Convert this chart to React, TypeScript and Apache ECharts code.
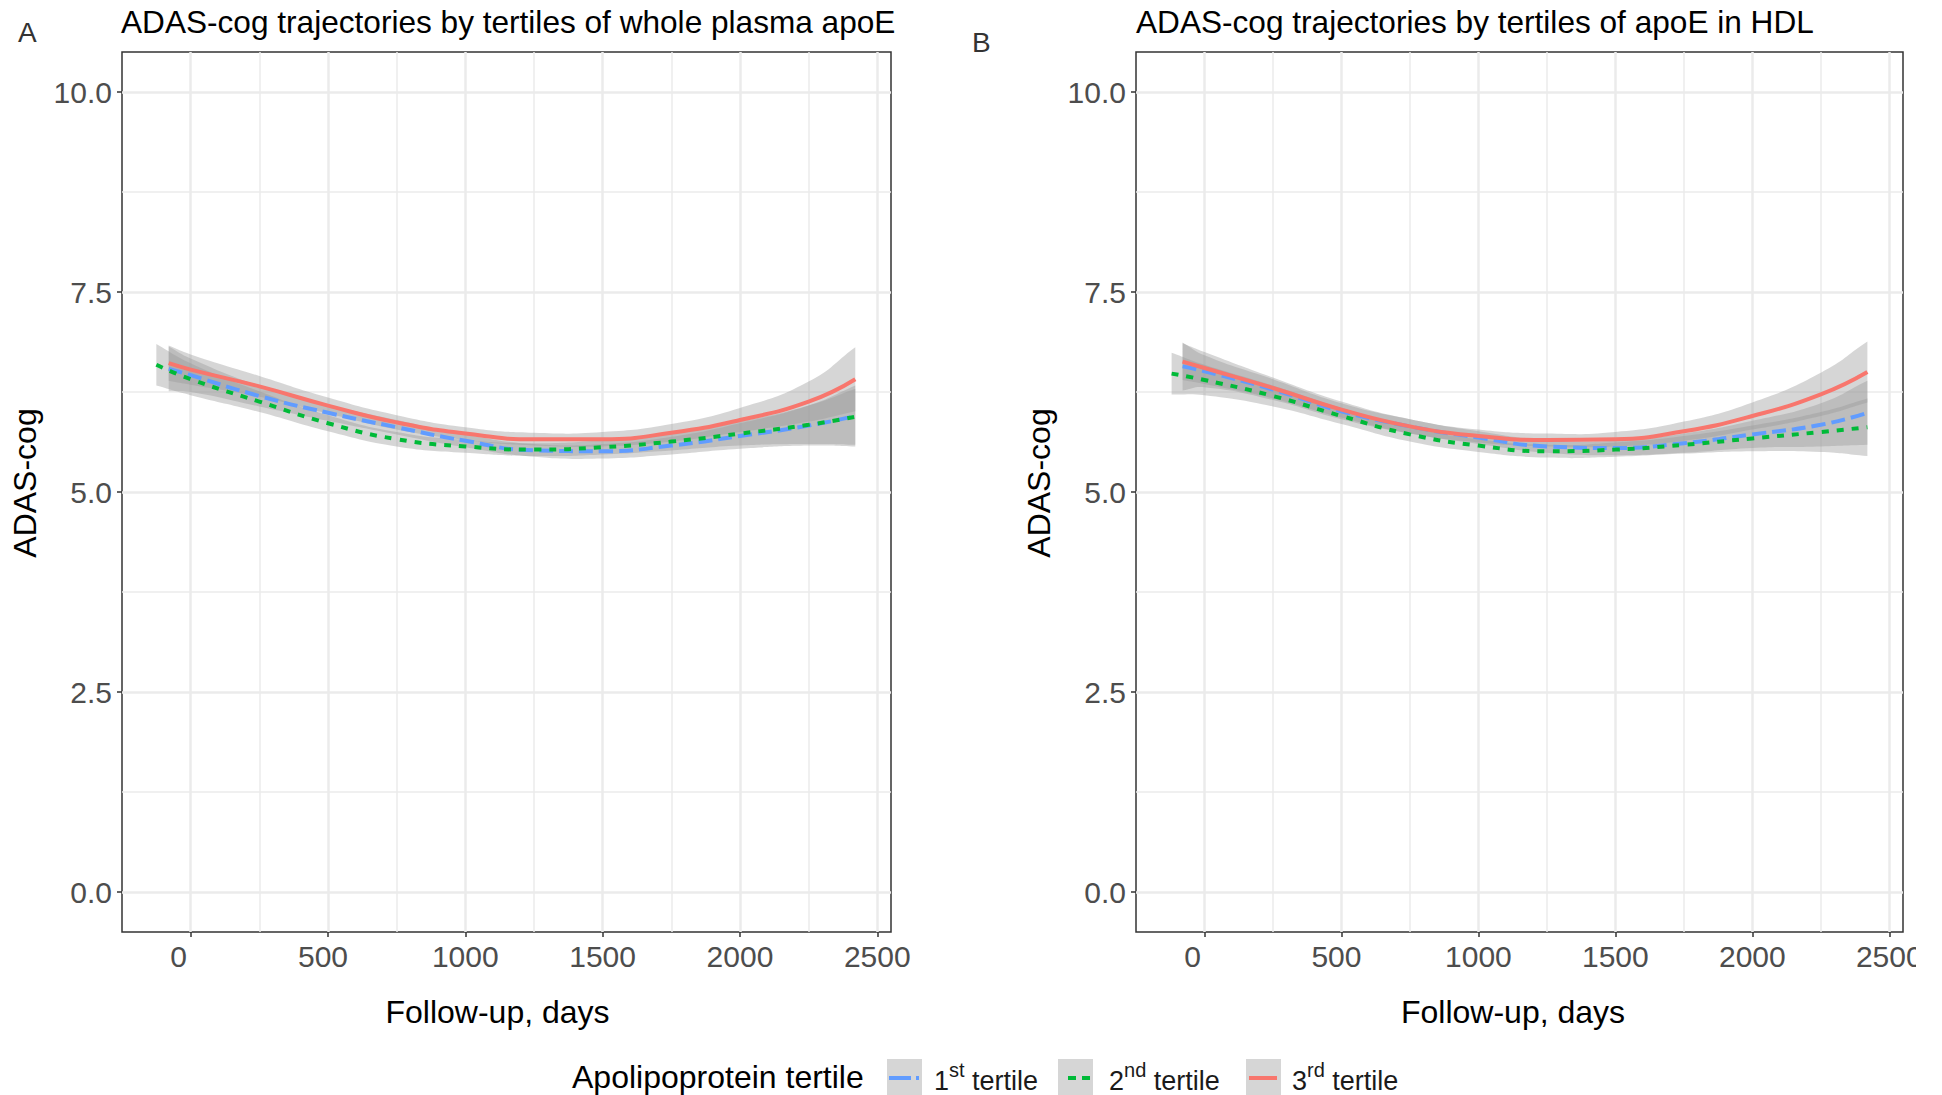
import React, { useEffect, useRef } from 'react';
import * as echarts from 'echarts';

const FONT = '"Liberation Sans", Arial, Helvetica, sans-serif';

const titleA = 'ADAS-cog trajectories by tertiles of whole plasma apoE';
const titleB = 'ADAS-cog trajectories by tertiles of apoE in HDL';
const xName = 'Follow-up, days';
const yName = 'ADAS-cog';
const legendTitle = 'Apolipoprotein tertile';
const xTicks = [0, 500, 1000, 1500, 2000, 2500];
const xMinor = [250, 750, 1250, 1750, 2250];
const yTicks = [0, 2.5, 5, 7.5, 10];
const yMinor = [1.25, 3.75, 6.25, 8.75];

// ---- Panel A: whole plasma apoE ----
const daysA1 = [-80, 0, 250, 500, 750, 1000, 1250, 1500, 1750, 2000, 2250, 2420];
const fitA1 = [6.54, 6.46, 6.2, 5.99, 5.81, 5.64, 5.52, 5.51, 5.58, 5.7, 5.83, 5.95];
const loA1 = [6.26, 6.25, 6.07, 5.89, 5.72, 5.56, 5.44, 5.42, 5.47, 5.54, 5.58, 5.57];
const hiA1 = [6.82, 6.67, 6.33, 6.09, 5.9, 5.72, 5.6, 5.6, 5.69, 5.86, 6.08, 6.33];

const daysA2 = [-125, 0, 250, 500, 750, 1000, 1250, 1500, 1750, 2000, 2250, 2420];
const fitA2 = [6.59, 6.41, 6.13, 5.86, 5.66, 5.57, 5.53, 5.56, 5.63, 5.73, 5.84, 5.94];
const loA2 = [6.33, 6.21, 6.0, 5.76, 5.57, 5.49, 5.45, 5.47, 5.52, 5.58, 5.6, 5.59];
const hiA2 = [6.85, 6.61, 6.26, 5.96, 5.75, 5.65, 5.61, 5.65, 5.74, 5.88, 6.08, 6.29];

const daysA3 = [-80, 0, 250, 500, 750, 1000, 1250, 1500, 1750, 2000, 2250, 2420];
const fitA3 = [6.61, 6.53, 6.32, 6.08, 5.87, 5.73, 5.66, 5.66, 5.74, 5.9, 6.13, 6.41];
const loA3 = [6.39, 6.34, 6.19, 5.98, 5.78, 5.65, 5.58, 5.57, 5.63, 5.75, 5.88, 6.01];
const hiA3 = [6.83, 6.72, 6.45, 6.18, 5.96, 5.81, 5.74, 5.75, 5.85, 6.05, 6.38, 6.81];

// ---- Panel B: apoE in HDL ----
const daysB1 = [-80, 0, 250, 500, 750, 1000, 1250, 1500, 1750, 2000, 2250, 2420];
const fitB1 = [6.57, 6.51, 6.28, 6.01, 5.82, 5.68, 5.57, 5.55, 5.61, 5.72, 5.84, 5.99];
const loB1 = [6.27, 6.31, 6.15, 5.91, 5.73, 5.6, 5.49, 5.46, 5.49, 5.55, 5.57, 5.59];
const hiB1 = [6.87, 6.71, 6.41, 6.11, 5.91, 5.76, 5.65, 5.64, 5.73, 5.89, 6.11, 6.39];

const daysB2 = [-120, 0, 250, 500, 750, 1000, 1250, 1500, 1750, 2000, 2250, 2420];
const fitB2 = [6.48, 6.4, 6.2, 5.95, 5.72, 5.58, 5.51, 5.53, 5.59, 5.67, 5.75, 5.81];
const loB2 = [6.22, 6.21, 6.07, 5.85, 5.63, 5.5, 5.43, 5.44, 5.48, 5.51, 5.5, 5.45];
const hiB2 = [6.74, 6.59, 6.33, 6.05, 5.81, 5.66, 5.59, 5.62, 5.7, 5.83, 6.0, 6.17];

const daysB3 = [-80, 0, 250, 500, 750, 1000, 1250, 1500, 1750, 2000, 2250, 2420];
const fitB3 = [6.63, 6.55, 6.3, 6.03, 5.82, 5.7, 5.65, 5.66, 5.76, 5.95, 6.22, 6.5];
const loB3 = [6.4, 6.35, 6.17, 5.93, 5.73, 5.62, 5.57, 5.57, 5.64, 5.78, 5.95, 6.12];
const hiB3 = [6.86, 6.75, 6.43, 6.13, 5.91, 5.78, 5.73, 5.75, 5.88, 6.12, 6.49, 6.88];

const tertileNames = ['1st tertile', '2nd tertile', '3rd tertile'];
const tertileColors = ['#619CFF', '#00BA38', '#F8766D'];
const tertileDash: any[] = [[14, 6], [7, 8], 'solid'];

const SMOOTH = 0.5;
const RIBBON_FILL = 'rgba(153,153,153,0.4)';

// Same bezier smoothing rule as ECharts' smoothed line, used for the ribbon edges.
function drawSmooth(ctx: any, pts: number[][], s: number) {
  const n = pts.length;
  let cp0x = pts[0][0] + (pts[1][0] - pts[0][0]) * s;
  let cp0y = pts[0][1] + (pts[1][1] - pts[0][1]) * s;
  for (let i = 1; i < n; i++) {
    const x = pts[i][0], y = pts[i][1];
    const px = pts[i - 1][0], py = pts[i - 1][1];
    const nx = i < n - 1 ? pts[i + 1][0] : x;
    const ny = i < n - 1 ? pts[i + 1][1] : y;
    const vx = nx - px, vy = ny - py;
    const l0 = Math.hypot(x - px, y - py), l1 = Math.hypot(nx - x, ny - y);
    const r = l0 + l1 > 0 ? l1 / (l0 + l1) : 0.5;
    const cp1x = x - vx * s * (1 - r), cp1y = y - vy * s * (1 - r);
    ctx.bezierCurveTo(cp0x, cp0y, cp1x, cp1y, x, y);
    cp0x = x + vx * s * r;
    cp0y = y + vy * s * r;
  }
}

const Ribbon = (echarts as any).graphic.extendShape({
  shape: { upper: [], lower: [], smooth: 0.5 },
  buildPath(ctx: any, shape: any) {
    const up = shape.upper, lo = shape.lower;
    if (!up || up.length < 2 || !lo || lo.length < 2) return;
    ctx.moveTo(up[0][0], up[0][1]);
    drawSmooth(ctx, up, shape.smooth);
    const rev = lo.slice().reverse();
    ctx.lineTo(rev[0][0], rev[0][1]);
    drawSmooth(ctx, rev, shape.smooth);
    ctx.closePath();
  },
});
(echarts as any).graphic.registerShape('ribbon', Ribbon);

function tertileSeries(panel: string, axisIdx: number, t: number, days: number[], fit: number[], lo: number[], hi: number[]) {
  return [
    {
      type: 'custom',
      name: tertileNames[t] + ' 95% CI ' + panel,
      xAxisIndex: axisIdx,
      yAxisIndex: axisIdx,
      silent: true,
      clip: true,
      data: days.map((d, i) => [d, lo[i], hi[i]]),
      encode: { x: 0, y: [1, 2] },
      renderItem: (params: any, api: any) => {
        if (params.dataIndex !== 0) return null;
        const upper = days.map((d, i) => api.coord([d, hi[i]]));
        const lower = days.map((d, i) => api.coord([d, lo[i]]));
        return { type: 'ribbon', shape: { upper, lower, smooth: SMOOTH }, style: { fill: RIBBON_FILL } };
      },
    },
    {
      type: 'line',
      name: tertileNames[t],
      xAxisIndex: axisIdx,
      yAxisIndex: axisIdx,
      smooth: SMOOTH,
      symbol: 'none',
      silent: true,
      data: days.map((d, i) => [d, fit[i]]),
      lineStyle: { color: tertileColors[t], width: 4, type: tertileDash[t] },
      itemStyle: { color: tertileColors[t] },
    },
  ];
}

function mainX(gridIndex: number, padRight: number) {
  return {
    type: 'value', gridIndex, min: -250, max: 2550, position: 'bottom',
    name: xName, nameLocation: 'middle', nameGap: 64,
    nameTextStyle: { fontSize: 32, color: '#000', fontFamily: FONT, padding: [0, padRight, 0, 0] },
    axisLine: { show: false, onZero: false },
    axisTick: { show: true, length: 5, lineStyle: { color: '#333333', width: 1.5 }, customValues: xTicks },
    axisLabel: {
      show: true, customValues: xTicks, fontSize: 30, color: '#4D4D4D', margin: 9, fontFamily: FONT,
      formatter: (v: number) => (v === 0 ? '{z|0}' : v === 500 ? '{f|500}' : String(v)),
      rich: {
        z: { fontSize: 30, color: '#4D4D4D', fontFamily: FONT, padding: [0, 24, 0, 0] },
        f: { fontSize: 30, color: '#4D4D4D', fontFamily: FONT, padding: [0, 10, 0, 0] },
      },
    },
    splitLine: { show: true, lineStyle: { color: '#EBEBEB', width: 2.5 } },
  };
}
function minorX(gridIndex: number) {
  return {
    type: 'value', gridIndex, min: -250, max: 2550, position: 'top',
    axisLine: { show: false, onZero: false },
    axisTick: { show: false, customValues: xMinor },
    axisLabel: { show: false, customValues: xMinor },
    splitLine: { show: true, lineStyle: { color: '#EBEBEB', width: 1.5 } },
  };
}
function mainY(gridIndex: number) {
  return {
    type: 'value', gridIndex, min: -0.5, max: 10.5, position: 'left',
    name: yName, nameLocation: 'middle', nameGap: 81, nameRotate: 90,
    nameTextStyle: { fontSize: 32, color: '#000', fontFamily: FONT, padding: [0, 0, 0, 18] },
    axisLine: { show: false, onZero: false },
    axisTick: { show: true, length: 5, lineStyle: { color: '#333333', width: 1.5 }, customValues: yTicks },
    axisLabel: {
      show: true, customValues: yTicks, fontSize: 30, color: '#4D4D4D', margin: 10, fontFamily: FONT,
      formatter: (v: number) => v.toFixed(1),
    },
    splitLine: { show: true, lineStyle: { color: '#EBEBEB', width: 2.5 } },
  };
}
function minorY(gridIndex: number) {
  return {
    type: 'value', gridIndex, min: -0.5, max: 10.5, position: 'right',
    axisLine: { show: false, onZero: false },
    axisTick: { show: false, customValues: yMinor },
    axisLabel: { show: false, customValues: yMinor },
    splitLine: { show: true, lineStyle: { color: '#EBEBEB', width: 1.5 } },
  };
}

function legendGraphics() {
  const y = 1077;
  const boxes = [887, 1058, 1246];
  const texts = [934, 1109, 1292];
  const sups = ['st', 'nd', 'rd'];
  const els: any[] = [
    {
      type: 'text', x: 572, y, silent: true,
      style: { text: legendTitle, fontSize: 32, fontFamily: FONT, fill: '#000', verticalAlign: 'middle', align: 'left' },
    },
  ];
  const keyLines = [
    { x1: 889, x2: 919, dash: [22, 5] },
    { x1: 1068, x2: 1092, dash: [8, 6] },
    { x1: 1249, x2: 1277, dash: null },
  ];
  for (let i = 0; i < 3; i++) {
    els.push({ type: 'rect', silent: true, shape: { x: boxes[i], y: y - 18, width: 35, height: 36 }, style: { fill: '#D6D6D6' } });
    els.push({
      type: 'line', silent: true,
      shape: { x1: keyLines[i].x1, y1: y + 1, x2: keyLines[i].x2, y2: y + 1 },
      style: { stroke: tertileColors[i], lineWidth: 4, lineDash: keyLines[i].dash || undefined },
    });
    els.push({
      type: 'text', x: texts[i], y, silent: true,
      style: {
        text: `{n|${i + 1}}{s|${sups[i]}}{n| tertile}`,
        verticalAlign: 'middle', align: 'left',
        rich: {
          n: { fontSize: 27, fontFamily: FONT, fill: '#1a1a1a', lineHeight: 34, verticalAlign: 'bottom' },
          s: { fontSize: 20, fontFamily: FONT, fill: '#1a1a1a', lineHeight: 20, verticalAlign: 'top' },
        },
      },
    });
  }
  return els;
}

export default function App() {
  const ref = useRef<HTMLDivElement>(null);
  useEffect(() => {
    document.body.style.margin = '0';
    if (!ref.current) return;
    const chart = echarts.init(ref.current, undefined, { renderer: 'svg' });
    const series: any[] = [
      ...tertileSeries('A', 0, 0, daysA1, fitA1, loA1, hiA1),
      ...tertileSeries('A', 0, 1, daysA2, fitA2, loA2, hiA2),
      ...tertileSeries('A', 0, 2, daysA3, fitA3, loA3, hiA3),
      ...tertileSeries('B', 2, 0, daysB1, fitB1, loB1, hiB1),
      ...tertileSeries('B', 2, 1, daysB2, fitB2, loB2, hiB2),
      ...tertileSeries('B', 2, 2, daysB3, fitB3, loB3, hiB3),
    ];
    const titleStyle = { fontSize: 31.6, fontWeight: 'normal', color: '#000', fontFamily: FONT };
    const option: any = {
      animation: false,
      backgroundColor: '#ffffff',
      textStyle: { fontFamily: FONT },
      title: [
        { text: titleA, left: 121, top: 6, padding: 0, textStyle: titleStyle },
        { text: titleB, left: 1136, top: 6, padding: 0, textStyle: titleStyle },
      ],
      grid: [
        { left: 122, top: 52, width: 769, height: 880, show: true, borderColor: '#333333', borderWidth: 1.5, backgroundColor: 'transparent', outerBoundsMode: 'none', containLabel: false },
        { left: 1136, top: 52, width: 767, height: 880, show: true, borderColor: '#333333', borderWidth: 1.5, backgroundColor: 'transparent', outerBoundsMode: 'none', containLabel: false },
      ],
      xAxis: [mainX(0, 18), minorX(0), mainX(1, 13), minorX(1)],
      yAxis: [mainY(0), minorY(0), mainY(1), minorY(1)],
      series,
      graphic: [
        { type: 'text', x: 18, y: 18, silent: true, style: { text: 'A', fontSize: 28, fontFamily: FONT, fill: '#333333' } },
        { type: 'text', x: 972, y: 28, silent: true, style: { text: 'B', fontSize: 28, fontFamily: FONT, fill: '#333333' } },
        ...legendGraphics(),
        { type: 'rect', silent: true, z: 100, shape: { x: 1916, y: 938, width: 26, height: 45 }, style: { fill: '#ffffff' } },
      ],
    };
    chart.setOption(option);
    return () => chart.dispose();
  }, []);
  return <div ref={ref} style={{ width: 1942, height: 1095 }} />;
}
